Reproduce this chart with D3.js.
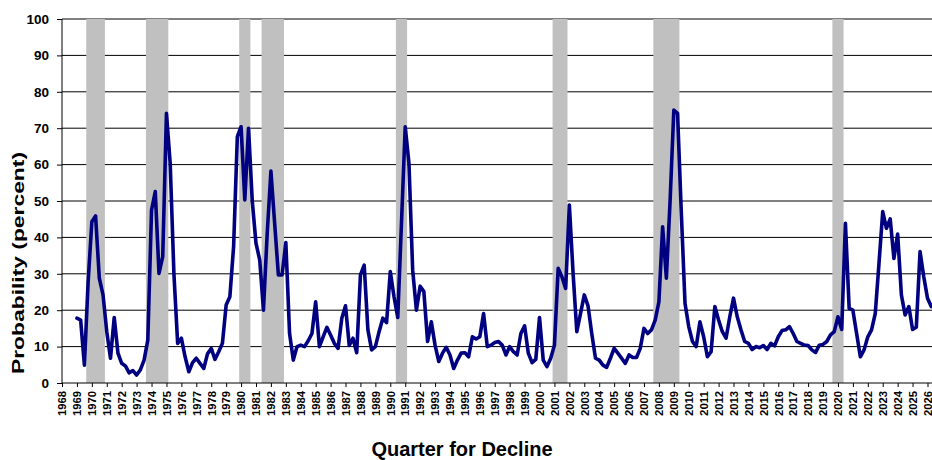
<!DOCTYPE html>
<html>
<head>
<meta charset="utf-8">
<script src="https://cdn.jsdelivr.net/npm/d3@7"></script>
<style>
  html, body { margin: 0; padding: 0; background: #fff; }
  svg { display: block; }
  text { font-family: "Liberation Sans", Arial, sans-serif; font-weight: bold; fill: #000; }
</style>
</head>
<body>
<svg id="chart" width="932" height="460"></svg>
<script>
// ---- Data ----
const startYear = 1969;           // first quarter is startYear Q1
const probability = [
  17.8, 17.3, 4.9, 27.7,    // 1969
  44.3, 45.9, 28.8, 24.2,   // 1970
  14.1, 6.8, 18.0, 8.2,     // 1971
  5.4, 4.7, 2.8, 3.4,       // 1972
  2.2, 3.6, 6.3, 11.8,      // 1973
  47.5, 52.6, 30.1, 34.7,   // 1974
  74.1, 60.4, 30.0, 10.9,   // 1975
  12.3, 7.2, 3.1, 5.6,      // 1976
  6.8, 5.4, 4.0, 8.0,       // 1977
  9.5, 6.5, 8.6, 10.9,      // 1978
  21.4, 23.7, 37.5, 67.7,   // 1979
  70.4, 50.3, 70.0, 50.0,   // 1980
  38.4, 33.8, 20.0, 41.0,   // 1981
  58.2, 43.9, 29.7, 29.7,   // 1982
  38.6, 13.6, 6.3, 10.0,    // 1983
  10.4, 10.0, 11.6, 13.6,   // 1984
  22.3, 10.0, 12.7, 15.3,   // 1985
  13.2, 10.9, 9.5, 17.8,    // 1986
  21.2, 10.3, 12.3, 8.3,    // 1987
  29.7, 32.4, 14.6, 9.1,    // 1988
  10.0, 14.1, 17.8, 16.6,   // 1989
  30.6, 23.7, 18.0, 44.0,   // 1990
  70.4, 60.4, 31.0, 20.0,   // 1991
  26.6, 25.1, 11.4, 16.8,   // 1992
  10.4, 5.9, 8.2, 9.8,      // 1993
  7.7, 4.0, 6.3, 8.2,       // 1994
  8.3, 7.2, 12.7, 12.1,     // 1995
  12.7, 19.1, 10.0, 10.4,   // 1996
  11.1, 11.4, 10.4, 7.7,    // 1997
  10.0, 8.6, 7.7, 13.6,     // 1998
  15.7, 8.2, 5.6, 6.5,      // 1999
  18.0, 6.3, 4.5, 6.8,      // 2000
  10.4, 31.5, 29.2, 26.0,   // 2001
  48.9, 30.1, 14.1, 19.1,   // 2002
  24.2, 21.2, 13.6, 6.8,    // 2003
  6.3, 4.9, 4.3, 6.8,       // 2004
  9.5, 8.2, 6.8, 5.4,       // 2005
  7.7, 7.0, 7.0, 9.5,       // 2006
  15.0, 13.6, 14.6, 17.3,   // 2007
  22.3, 42.9, 28.8, 50.0,   // 2008
  75.0, 74.1, 47.0, 21.9,   // 2009
  15.5, 11.4, 10.0, 16.8,   // 2010
  12.7, 7.2, 8.6, 21.0,     // 2011
  17.3, 14.1, 12.3, 18.2,   // 2012
  23.3, 18.2, 14.6, 11.4,   // 2013
  10.9, 9.2, 10.0, 9.7,     // 2014
  10.3, 9.2, 10.9, 10.2,    // 2015
  12.7, 14.4, 14.6, 15.5,   // 2016
  13.6, 11.4, 10.9, 10.4,   // 2017
  10.3, 9.1, 8.4, 10.4,     // 2018
  10.6, 11.4, 13.2, 14.1,   // 2019
  18.2, 14.7, 43.9, 20.5,   // 2020
  20.0, 13.6, 7.2, 9.1,     // 2021
  12.7, 14.6, 19.1, 32.9,   // 2022
  47.1, 42.5, 45.1, 34.2,   // 2023
  40.9, 24.2, 18.7, 21.0,   // 2024
  14.7, 15.3, 36.1, 29.2,   // 2025
  23.3, 21.0                // 2026
];
const recessionStart = ["1969Q4", "1973Q4", "1980Q1", "1981Q3", "1990Q3", "2001Q1", "2007Q4", "2019Q4"];
const recessionEnd   = ["1970Q4", "1975Q1", "1980Q3", "1982Q4", "1991Q1", "2001Q4", "2009Q2", "2020Q2"];
const yTicks = [0, 10, 20, 30, 40, 50, 60, 70, 80, 90, 100];
const yearTicks = d3.range(1968, 2027);
const xTitle = "Quarter for Decline";
const yTitle = "Probability (percent)";

// ---- Helpers ----
const quarterToNum = s => +s.slice(0, 4) + (+s.slice(5) - 1) / 4;
const series = probability.map((v, i) => ({ t: startYear + i / 4, v }));

// ---- Layout ----
const mLeft = 62, mTop = 19, mBottom = 383, mRight = 932;

const svg = d3.select("#chart");
const x = d3.scaleLinear().domain([1968, 2026]).range([mLeft, 927.5]);
const y = d3.scaleLinear().domain([0, 100]).range([mBottom, mTop]);

svg.append("defs").append("clipPath").attr("id", "plot")
  .append("rect").attr("x", mLeft).attr("y", 0).attr("width", mRight - mLeft).attr("height", mBottom + 1);

const plot = svg.append("g").attr("clip-path", "url(#plot)");

// gridlines
plot.append("g").selectAll("line").data(yTicks.filter(d => d > 0)).join("line")
  .attr("x1", mLeft).attr("x2", mRight)
  .attr("y1", d => y(d)).attr("y2", d => y(d))
  .attr("stroke", "#000").attr("stroke-width", 1);

// recession bars
plot.append("g").selectAll("rect").data(recessionStart.map((s, i) => [s, recessionEnd[i]])).join("rect")
  .attr("x", d => x(quarterToNum(d[0]) - 0.125))
  .attr("width", d => x(quarterToNum(d[1]) + 0.125) - x(quarterToNum(d[0]) - 0.125))
  .attr("y", mTop)
  .attr("height", mBottom - mTop)
  .attr("fill", "#C0C0C0");

// line
plot.append("path").datum(series)
  .attr("d", d3.line().x(d => x(d.t)).y(d => y(d.v)))
  .attr("fill", "none")
  .attr("stroke", "#000080")
  .attr("stroke-width", 3.6)
  .attr("stroke-linejoin", "round")
  .attr("stroke-linecap", "round");

// y axis
const yAxis = svg.append("g").attr("transform", `translate(${mLeft},0)`)
  .call(d3.axisLeft(y).tickValues(yTicks).tickSize(5).tickPadding(8).tickFormat(d3.format("d")));
yAxis.select(".domain").attr("stroke", "#000").attr("d", `M0,${mTop}V${mBottom}`);
yAxis.selectAll(".tick line").attr("stroke", "#000");
yAxis.selectAll(".tick text")
  .attr("font-family", "Liberation Sans, Arial, sans-serif")
  .attr("font-weight", "bold").attr("font-size", 13.5).attr("fill", "#000");

// x axis
const xAxis = svg.append("g").attr("transform", `translate(0,${mBottom})`)
  .call(d3.axisBottom(x).tickValues(yearTicks).tickSize(4).tickFormat(d3.format("d")));
xAxis.select(".domain").attr("stroke", "#000").attr("d", `M${mLeft},0H${mRight}`);
xAxis.selectAll(".tick line").attr("stroke", "#000");
xAxis.selectAll(".tick text")
  .attr("font-family", "Liberation Sans, Arial, sans-serif")
  .attr("font-weight", "bold").attr("font-size", 10.5).attr("fill", "#000")
  .attr("text-anchor", "end")
  .attr("transform", "translate(0,8) rotate(-90)")
  .attr("x", 0).attr("y", 0).attr("dy", "0.36em")
  .attr("textLength", 25).attr("lengthAdjust", "spacingAndGlyphs");

// titles
svg.append("text")
  .attr("x", 462).attr("y", 456)
  .attr("text-anchor", "middle")
  .attr("font-size", 20)
  .text(xTitle);

svg.append("text")
  .attr("transform", "translate(23.5,263) rotate(-90)")
  .attr("text-anchor", "middle")
  .attr("font-size", 17)
  .attr("textLength", 222).attr("lengthAdjust", "spacingAndGlyphs")
  .text(yTitle);
</script>
</body>
</html>
